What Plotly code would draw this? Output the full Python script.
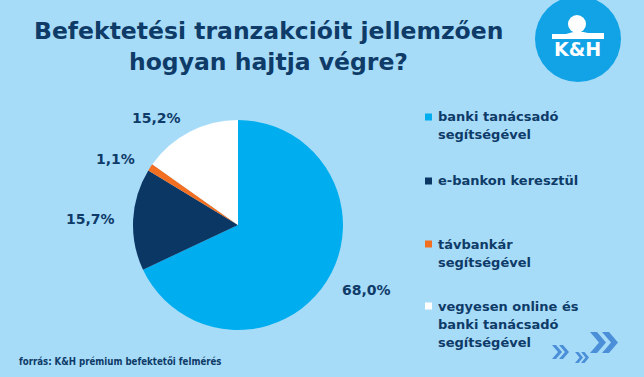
import math
import plotly.graph_objects as go

# ---- data ----
categories = ["banki tanácsadó<br>segítségével", "e-bankon keresztül",
              "távbankár<br>segítségével", "vegyesen online és<br>banki tanácsadó<br>segítségével"]
values = [68.0, 15.7, 1.1, 15.2]
colors = ["#00aeef", "#0b3764", "#f26f21", "#ffffff"]
title_lines = ["Befektetési tranzakcióit jellemzően", "hogyan hajtja végre?"]
source_text = "forrás: K&H prémium befektetői felmérés"

W, H = 644, 377
BG = "#a7dcf8"
NAVY = "#0e3b68"
FONT = "DejaVu Sans"
CX, CY, R = 238, 225, 105

def px(x):
    return x / W

def py(y):
    return 1 - y / H

fig = go.Figure()
fig.add_trace(go.Pie(
    labels=categories, values=values, sort=False, direction="clockwise",
    marker=dict(colors=colors, line=dict(width=0)),
    textinfo="none",
    domain=dict(x=[px(CX - R), px(CX + R)], y=[py(CY + R), py(CY - R)]),
    hoverinfo="skip", showlegend=False,
))

annotations = []
shapes = []

# value labels outside the slices, placed at each slice's mid angle
total = sum(values)
cum = 0.0
for v in values:
    mid = (cum + v / 2) / total * 2 * math.pi
    cum += v
    dx, dy = math.sin(mid), -math.cos(mid)
    ax, ay = CX + 1.15 * R * dx, CY + 1.15 * R * dy
    annotations.append(dict(x=px(ax), y=py(ay), xref="paper", yref="paper",
                            text="<b>" + f"{v:.1f}".replace(".", ",") + "%</b>",
                            showarrow=False, xanchor="left" if dx > 0 else "right",
                            yanchor="middle",
                            font=dict(family=FONT, size=14, color=NAVY)))

# title
for i, line in enumerate(title_lines):
    annotations.append(dict(x=px(268), y=py(31 + 31 * i), xref="paper", yref="paper",
                            text="<b>" + line + "</b>", showarrow=False,
                            xanchor="center", yanchor="middle",
                            font=dict(family=FONT, size=23.5, color=NAVY)))

# legend (custom)
item_y = [117, 181, 244, 306]
for lab, col, y0 in zip(categories, colors, item_y):
    shapes.append(dict(type="rect", xref="paper", yref="paper",
                       x0=px(425), x1=px(432), y0=py(y0 - 3.5), y1=py(y0 + 3.5),
                       fillcolor=col, line=dict(width=0)))
    for j, part in enumerate(lab.split("<br>")):
        annotations.append(dict(x=px(436), y=py(y0 + 18 * j), xref="paper", yref="paper",
                                text="<b>" + part + "</b>", showarrow=False,
                                xanchor="left", yanchor="middle",
                                font=dict(family=FONT, size=13, color=NAVY)))

# source
annotations.append(dict(x=px(17), y=py(361), xref="paper", yref="paper",
                        text="<b>" + source_text + "</b>", showarrow=False,
                        xanchor="left", yanchor="middle",
                        font=dict(family="DejaVu Sans Condensed", size=9.6, color=NAVY)))

# logo
shapes.append(dict(type="circle", xref="paper", yref="paper",
                   x0=px(535), x1=px(621), y0=py(-4), y1=py(82),
                   fillcolor="#12a3e6", line=dict(width=0)))
shapes.append(dict(type="circle", xref="paper", yref="paper",
                   x0=px(568), x1=px(586), y0=py(15), y1=py(33),
                   fillcolor="white", line=dict(width=0)))

def P(x, y):
    return f"{px(x)},{py(y)}"

shapes.append(dict(type="path", xref="paper", yref="paper",
                   path=f"M {P(552,34)} L {P(566,34)} Q {P(577,30)} {P(588,33)} L {P(604,33)} "
                        f"L {P(604,39)} L {P(552,39)} Z",
                   fillcolor="white", line=dict(width=0)))
annotations.append(dict(x=px(577.5), y=py(49), xref="paper", yref="paper",
                        text="<b>K&amp;H</b>", showarrow=False, xanchor="center", yanchor="middle",
                        font=dict(family=FONT, size=19, color="white")))

# chevrons
def chevron(x, y0, w, h, t):
    ym = y0 + h / 2
    pts = [(x, y0), (x + t, y0), (x + w, ym), (x + t, y0 + h), (x, y0 + h), (x + w - t, ym)]
    return "M " + " L ".join(P(a, b) for a, b in pts) + " Z"

for (x, y0, w, h, t, gap) in [(590, 332, 16, 21, 7, 12), (552, 345, 10, 14, 4, 7), (575, 352, 8, 11, 3.5, 6)]:
    for k in range(2):
        shapes.append(dict(type="path", xref="paper", yref="paper",
                           path=chevron(x + k * gap, y0, w, h, t),
                           fillcolor="#4b8fd8", line=dict(width=0)))

fig.update_layout(
    width=W, height=H, margin=dict(l=0, r=0, t=0, b=0),
    paper_bgcolor=BG, plot_bgcolor=BG,
    annotations=annotations, shapes=shapes, showlegend=False,
)
fig.write_html("out.html", config={"displayModeBar": False},
               post_script="document.body.style.margin='0';document.body.style.overflow='hidden';")
